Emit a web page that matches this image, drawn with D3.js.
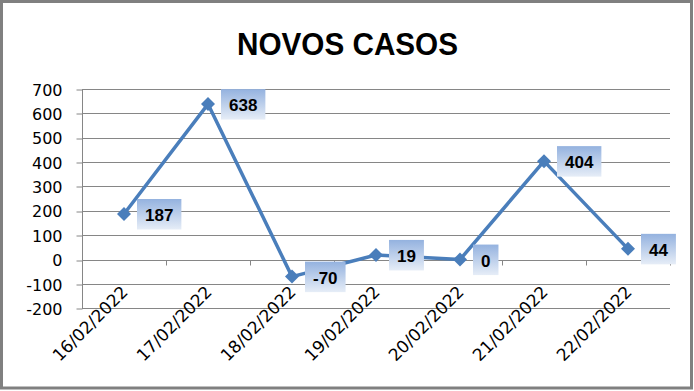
<!DOCTYPE html>
<html>
<head>
<meta charset="utf-8">
<script src="https://cdn.jsdelivr.net/npm/d3@7"></script>
<style>
  html, body { margin: 0; padding: 0; background: #fff; }
  svg { display: block; }
</style>
</head>
<body>
<svg id="chart" width="694" height="391"></svg>
<script>
const title = "NOVOS CASOS";
const categories = ["16/02/2022", "17/02/2022", "18/02/2022", "19/02/2022", "20/02/2022", "21/02/2022", "22/02/2022"];
const values = [187, 638, -70, 19, 0, 404, 44];
const yTickValues = [-200, -100, 0, 100, 200, 300, 400, 500, 600, 700];

const W = 694, H = 391;
const plot = { left: 82, right: 670, top: 89, bottom: 308.3 };
const lineColor = "#4A7EBB";
const gridColor = "#868686";

const svg = d3.select("#chart");

// gradient for data label boxes
const defs = svg.append("defs");
const grad = defs.append("linearGradient").attr("id", "lblGrad")
  .attr("x1", 0).attr("y1", 0).attr("x2", 0).attr("y2", 1);
grad.append("stop").attr("offset", "0%").attr("stop-color", "#94B2DF");
grad.append("stop").attr("offset", "100%").attr("stop-color", "#E6EDF7");

// outer border
svg.append("rect")
  .attr("x", 1.5).attr("y", 1.5)
  .attr("width", 690).attr("height", 386.5)
  .attr("fill", "#fff")
  .attr("stroke", "#808080").attr("stroke-width", 3);

// title
svg.append("text")
  .attr("x", 347.5).attr("y", 55)
  .attr("text-anchor", "middle")
  .attr("font-family", "'Liberation Sans', Arial, sans-serif")
  .attr("font-weight", "bold")
  .attr("font-size", 32)
  .attr("textLength", 221)
  .attr("lengthAdjust", "spacingAndGlyphs")
  .attr("fill", "#000")
  .text(title);

const x = d3.scaleBand().domain(categories).range([plot.left, plot.right]).padding(0);
const y = d3.scaleLinear().domain([-200, 700]).range([plot.bottom, plot.top]);
const cx = d => x(d) + x.bandwidth() / 2;

// gridlines
svg.append("g").selectAll("line").data(yTickValues).join("line")
  .attr("x1", plot.left).attr("x2", plot.right)
  .attr("y1", d => Math.round(y(d)) + 0.5).attr("y2", d => Math.round(y(d)) + 0.5)
  .attr("stroke", gridColor).attr("stroke-width", 1);

// y axis
const yAxis = svg.append("g")
  .attr("transform", `translate(${plot.left + 0.5},0)`)
  .call(d3.axisLeft(y).tickValues(yTickValues).tickSize(6).tickPadding(14).tickFormat(d => String(d)));
yAxis.select(".domain").attr("stroke", gridColor).attr("d", `M0,${y(700)}V${y(-200)}`);
yAxis.selectAll(".tick line").attr("stroke", gridColor)
  .attr("transform", function(d){ return `translate(0,${Math.round(y(d)) + 0.5 - y(d)})`; });
yAxis.selectAll(".tick text")
  .attr("font-family", "'DejaVu Sans', sans-serif")
  .attr("font-size", 16)
  .attr("fill", "#000")
  .attr("dy", "0.38em");

// x axis at 0 with boundary ticks
const y0 = Math.round(y(0)) + 0.5;
const boundaries = categories.map(c => x(c)).concat([x(categories[categories.length - 1]) + x.bandwidth()]);
svg.append("g").selectAll("line").data(boundaries).join("line")
  .attr("x1", d => Math.round(d) + 0.5).attr("x2", d => Math.round(d) + 0.5)
  .attr("y1", y0).attr("y2", y0 + 5)
  .attr("stroke", gridColor).attr("stroke-width", 1);

// x labels
svg.append("g").selectAll("text").data(categories).join("text")
  .attr("transform", d => `translate(${cx(d) + 5},293) rotate(-45)`)
  .attr("text-anchor", "end")
  .attr("font-family", "'DejaVu Sans', sans-serif")
  .attr("font-size", 17)
  .attr("fill", "#000")
  .text(d => d);

// line
const pts = categories.map((c, i) => [cx(c), y(values[i])]);
svg.append("path")
  .attr("d", d3.line()(pts))
  .attr("fill", "none")
  .attr("stroke", lineColor)
  .attr("stroke-width", 3.5)
  .attr("stroke-linejoin", "round");

// markers
svg.append("g").selectAll("path").data(pts).join("path")
  .attr("d", d => `M${d[0]},${d[1] - 7}L${d[0] + 7},${d[1]}L${d[0]},${d[1] + 7}L${d[0] - 7},${d[1]}Z`)
  .attr("fill", lineColor);

// data labels
const lbl = svg.append("g").selectAll("g").data(values).join("g")
  .attr("transform", (d, i) => `translate(${pts[i][0] + 13},${pts[i][1]})`);
lbl.each(function(d) {
  const g = d3.select(this);
  const t = g.append("text")
    .attr("font-family", "'Liberation Sans', Arial, sans-serif")
    .attr("font-weight", "bold")
    .attr("font-size", 17)
    .attr("fill", "#000")
    .attr("text-anchor", "middle")
    .attr("dy", "0.42em")
    .text(String(d));
  const w = t.node().getComputedTextLength() + 16;
  t.attr("x", w / 2);
  g.insert("rect", "text")
    .attr("x", 0).attr("y", -15)
    .attr("width", w).attr("height", 30.5)
    .attr("fill", "url(#lblGrad)");
});
</script>
</body>
</html>
